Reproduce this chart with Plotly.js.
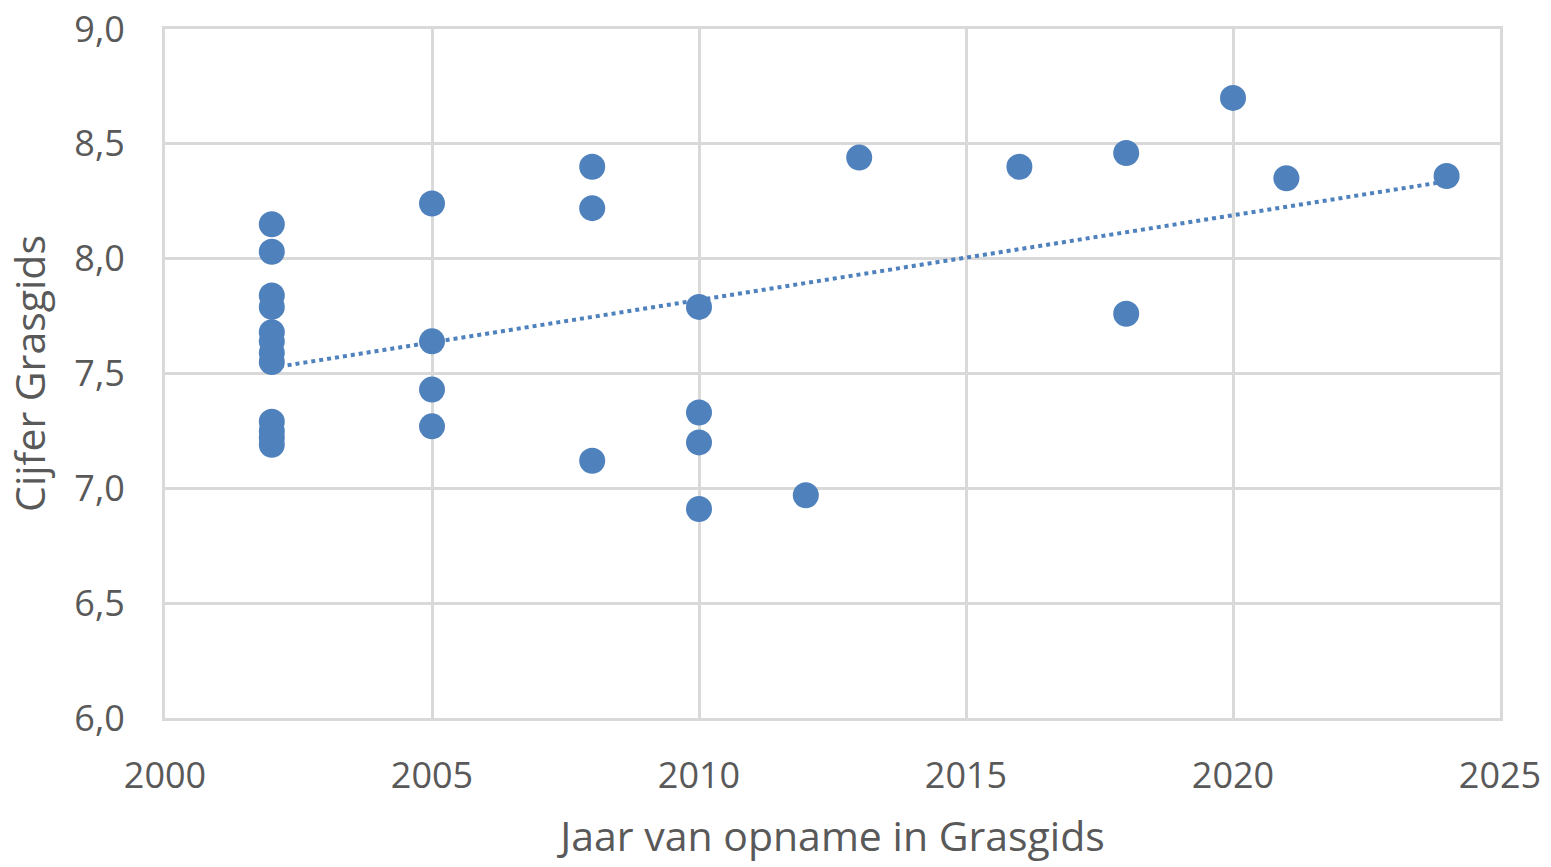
<!DOCTYPE html>
<html>
<head>
<meta charset="utf-8">
<script src="https://cdn.plot.ly/plotly-3.0.1.min.js"></script>
<style>html,body{margin:0;padding:0;background:#fff;}#chart{width:1551px;height:867px;}</style>
</head>
<body>
<div id="chart"></div>
<script>
// Data
const years = [2002,2002,2002,2002,2002,2002,2002,2002,2002,2002,2002,2002,
               2005,2005,2005,2005,
               2008,2008,2008,
               2010,2010,2010,2010,
               2012,2013,2016,2018,2018,2020,2021,2024];
const scores = [8.15,8.03,7.84,7.79,7.68,7.64,7.59,7.55,7.29,7.25,7.22,7.19,
                8.24,7.64,7.43,7.27,
                8.40,8.22,7.12,
                7.79,7.33,7.20,6.91,
                6.97,8.44,8.40,8.46,7.76,8.70,8.35,8.36];
const xTickVals = [2000,2005,2010,2015,2020,2025];
const yTickVals = [6.0,6.5,7.0,7.5,8.0,8.5,9.0];
const xTitle = 'Jaar van opname in Grasgids';
const yTitle = 'Cijfer Grasgids';

// Linear trendline (least squares) computed from the data
const n = years.length;
const mx = years.reduce((a,b)=>a+b,0)/n;
const my = scores.reduce((a,b)=>a+b,0)/n;
let sxy=0, sxx=0;
for(let i=0;i<n;i++){sxy+=(years[i]-mx)*(scores[i]-my);sxx+=(years[i]-mx)**2;}
const slope = sxy/sxx, icpt = my - slope*mx;
const xMin = Math.min(...years), xMax = Math.max(...years);
const trendX = [xMin, xMax];
const trendY = trendX.map(x=>icpt+slope*x);

const blue = '#4F81BD';
const grid = '#D9D9D9';
const txt = '#595959';
const font = 'Open Sans, Noto Sans, sans-serif';

const traces = [
  {x: trendX, y: trendY, mode:'lines', type:'scatter',
   line:{color:blue, width:4, dash:'dot'}, hoverinfo:'skip', showlegend:false},
  {x: years, y: scores, mode:'markers', type:'scatter',
   marker:{color:blue, size:26, line:{width:0}}, showlegend:false}
];

const layout = {
  width:1551, height:867,
  margin:{l:165, r:51, t:29, b:149},
  paper_bgcolor:'#fff', plot_bgcolor:'#fff',
  separators:',.',
  font:{family:font, color:txt, size:36},
  xaxis:{range:[2000,2025], tickvals:xTickVals, ticktext:xTickVals.map(String),
    showgrid:true, gridcolor:grid, gridwidth:3, zeroline:false,
    showline:true, linecolor:grid, linewidth:3, mirror:true,
    ticks:'outside', ticklen:24, tickcolor:'rgba(0,0,0,0)',
    tickfont:{size:36, color:txt, family:font},
    title:{text:xTitle, font:{size:41, color:txt, family:font}, standoff:25}},
  yaxis:{range:[6,9], tickvals:yTickVals, tickformat:'.1f',
    showgrid:true, gridcolor:grid, gridwidth:3, zeroline:false,
    showline:true, linecolor:grid, linewidth:3, mirror:true,
    ticks:'outside', ticklen:30, tickcolor:'rgba(0,0,0,0)',
    tickfont:{size:36, color:txt, family:font},
    title:{text:yTitle, font:{size:41, color:txt, family:font}, standoff:16}}
};

Plotly.newPlot('chart', traces, layout, {displayModeBar:false, staticPlot:true});
</script>
</body>
</html>
